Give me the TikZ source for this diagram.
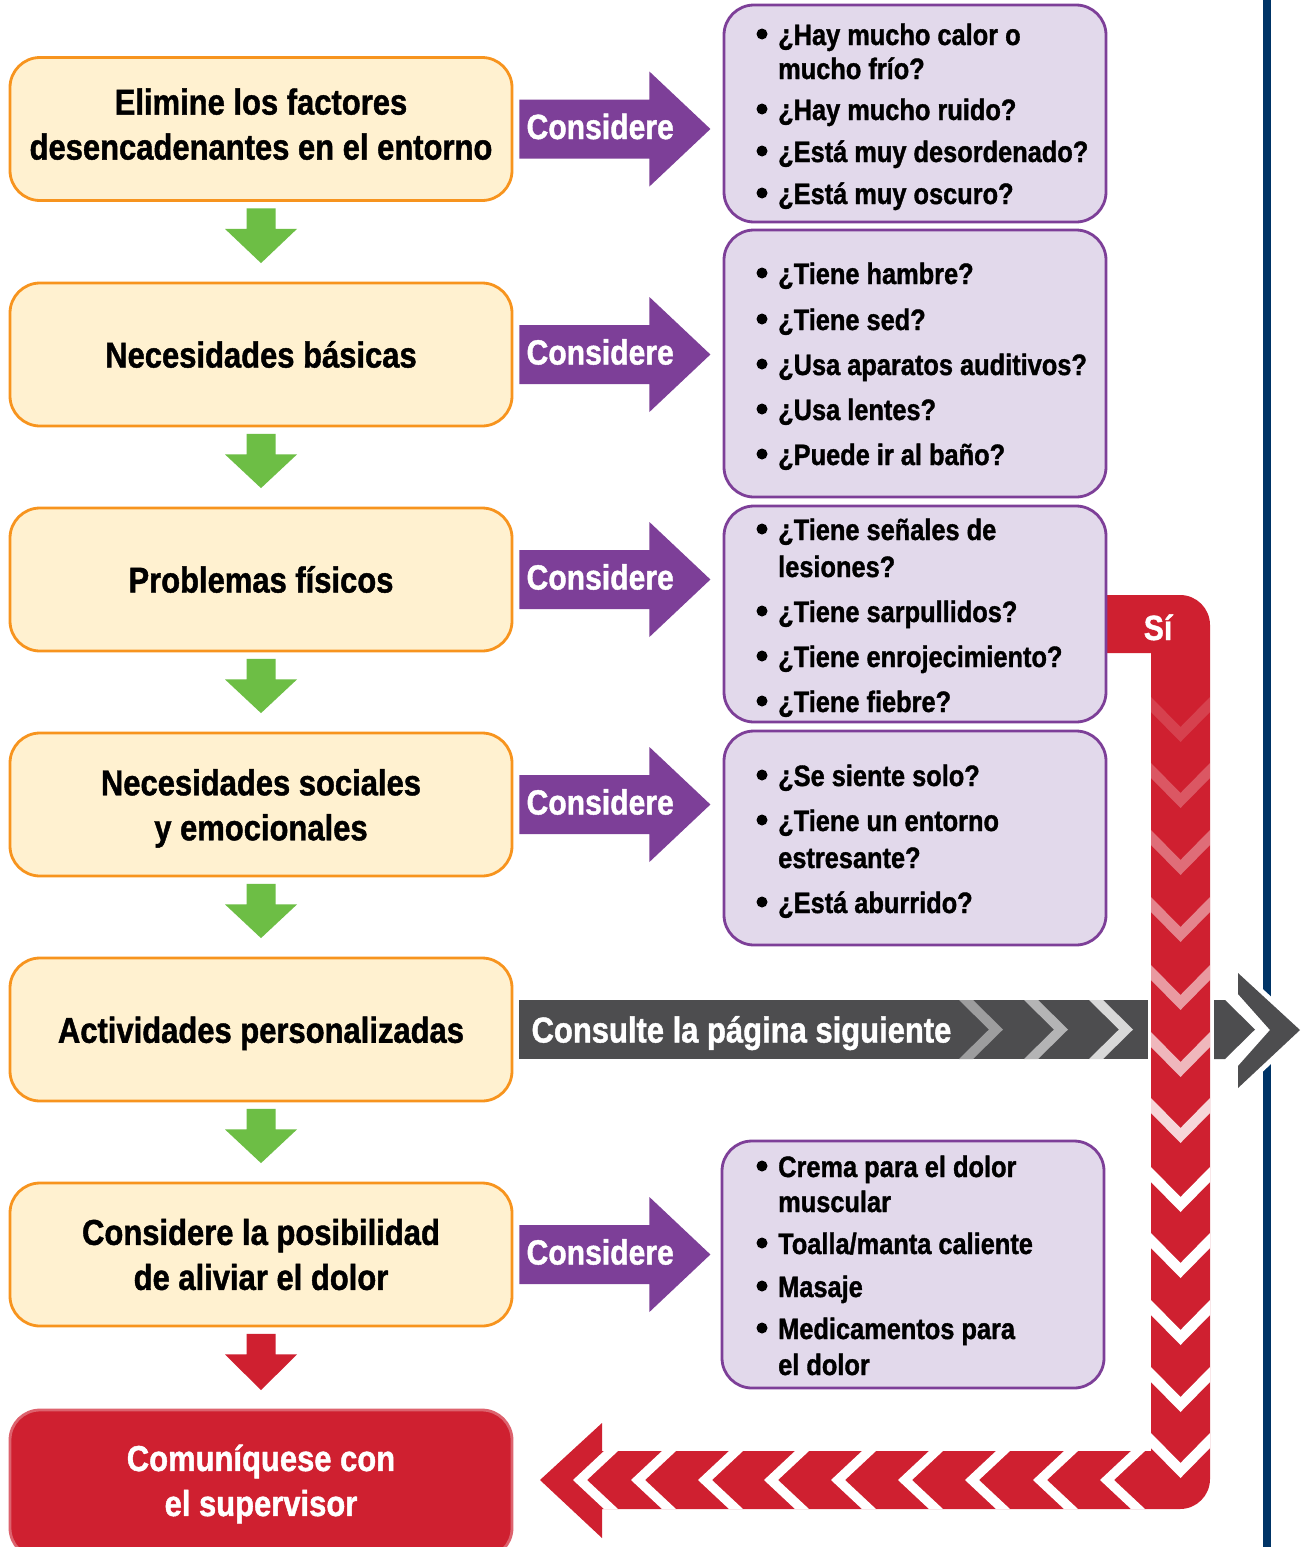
\documentclass[tikz,border=0pt]{standalone}
\usepackage{fontspec}
\setmainfont{Liberation Sans}[FakeStretch=0.86, FakeBold=1.2]
\usetikzlibrary{calc}
\definecolor{cream}{HTML}{FFF1D0}
\definecolor{orng}{HTML}{F7941E}
\definecolor{purp}{HTML}{7D3F98}
\definecolor{lav}{HTML}{E2D9EB}
\definecolor{grn}{HTML}{6DBE45}
\definecolor{rred}{HTML}{CF2030}
\definecolor{gbar}{HTML}{4D4D4F}
\definecolor{navy}{HTML}{003466}
\newcommand\boxfont{\fontsize{36}{45}\selectfont\bfseries}
\newcommand\consfont{\fontsize{35}{45}\selectfont\bfseries}
\newcommand\itemfont{\fontsize{29.5}{35}\selectfont\bfseries}
\newcommand\dnarrow[3]{\fill[#3] ($(#1.south)+(-14.5,6.5)$) -- ($(#1.south)+(14.5,6.5)$) -- ($(#1.south)+(14.5,27)$) -- ($(#1.south)+(36,27)$) -- ($(#2.north)+(0,-18.5)$) -- ($(#1.south)+(-36,27)$) -- ($(#1.south)+(-14.5,27)$) -- cycle;}
\newcommand\consarrow[2]{\fill[purp] ($(#1.east)+(6,-29.5)$) -- ($(#1.east)+(136,-29.5)$) -- ($(#1.east)+(136,-57.5)$) -- ($(#1.east)+(197,0)$) -- ($(#1.east)+(136,57.5)$) -- ($(#1.east)+(136,29.5)$) -- ($(#1.east)+(6,29.5)$) -- cycle;
 \node[constxt] (#2) at ($(#1.east)+(13,10)$) {Considere};}
\newcommand\qitem[3]{\node[qdot] (d#1) at (762,{#2-11}) {}; \node[qtxt] (t#1) at (778,#2) {#3};}
\newcommand\qline[3]{\node[qtxt] (t#1) at (778,#2) {#3};}
\newcommand\deeper{\rule[-10pt]{0pt}{10pt}}
\newcommand\taller{\rule{0pt}{34pt}}
\tikzset{
 lbox/.style={draw=orng, fill=cream, line width=2.8, rounded corners=30, minimum width=502, minimum height=143, align=center, font=\boxfont, inner sep=0},
 qbox/.style={draw=purp, fill=lav, line width=2.8, rounded corners=30},
 constxt/.style={anchor=base west, text=white, font=\consfont, inner sep=0},
 qtxt/.style={anchor=base west, font=\itemfont, inner sep=0},
 qdot/.style={circle, fill=black, inner sep=0, minimum size=11}
}
\begin{document}
\begin{tikzpicture}[x=1pt,y=-1pt]
\useasboundingbox (0,0) rectangle (1310,1547);
\fill[white] (0,0) rectangle (1310,1547);
% navy page rule
\fill[navy] (1263,0) rectangle (1271,1547);
% red return band
\fill[rred] (1100,595) -- (1180,595) arc[start angle=-90, end angle=0, radius=30] -- (1210,1479) arc[start angle=0, end angle=90, radius=30] -- (602,1509) -- (602,1538) -- (540,1480) -- (602,1423) -- (602,1451) -- (1151,1451) -- (1151,653) -- (1100,653) -- cycle;
\foreach \t/\o in {742/0.15, 808/0.25, 875/0.35, 942/0.45, 1010/0.55, 1077/0.68, 1143/0.82, 1212/1, 1278/1, 1345/1, 1412/1, 1478/1}
  \fill[white, fill opacity=\o] (1151,{\t-45}) -- (1180.5,{\t-15}) -- (1210,{\t-45}) -- (1210,{\t-30}) -- (1180.5,\t) -- (1151,{\t-30}) -- cycle;
\foreach \a in {573,631,698,764,831,898,965,1033,1100}
  \fill[white] (\a,1480) -- ({\a+31},1451) -- ({\a+45},1451) -- ({\a+14},1480) -- ({\a+45},1509) -- ({\a+31},1509) -- cycle;
\node[text=white, font=\consfont, inner sep=0, anchor=base] (si) at (1158,640) {Sí};
% left boxes
\node[lbox] (L1) at (261,129) {Elimine los factores\\desencadenantes en el entorno\deeper};
\node[lbox] (L2) at (261,354.5) {Necesidades básicas};
\node[lbox] (L3) at (261,579.5) {Problemas físicos};
\node[lbox] (L4) at (261,804.5) {\taller Necesidades sociales\\y emocionales};
\node[lbox] (L5) at (261,1029.5) {\taller Actividades personalizadas};
\node[lbox] (L6) at (261,1254.5) {Considere la posibilidad\\de aliviar el dolor};
\node[lbox, fill=rred, draw=rred!70!white, text=white, minimum height=148] (LR) at (261,1484) {Comuníquese con\\el supervisor};
\dnarrow{L1}{L2}{grn}
\dnarrow{L2}{L3}{grn}
\dnarrow{L3}{L4}{grn}
\dnarrow{L4}{L5}{grn}
\dnarrow{L5}{L6}{grn}
\dnarrow{L6}{LR}{rred}
% right boxes
\node[qbox, minimum width=382, minimum height=217] (RA) at (915,113.5) {};
\node[qbox, minimum width=382, minimum height=267] (RB) at (915,363.5) {};
\node[qbox, minimum width=382, minimum height=216] (RC) at (915,614) {};
\node[qbox, minimum width=382, minimum height=214] (RD) at (915,838) {};
\node[qbox, minimum width=382, minimum height=247] (RE) at (913,1264.5) {};
\consarrow{L1}{c1}
\consarrow{L2}{c2}
\consarrow{L3}{c3}
\consarrow{L4}{c4}
\consarrow{L6}{c6}
% items
\qitem{A1}{45}{¿Hay mucho calor o}
\qline{A1b}{79}{mucho frío?}
\qitem{A2}{120}{¿Hay mucho ruido?}
\qitem{A3}{162}{¿Está muy desordenado?}
\qitem{A4}{204}{¿Está muy oscuro?}
\qitem{B1}{284}{¿Tiene hambre?}
\qitem{B2}{330}{¿Tiene sed?}
\qitem{B3}{375}{¿Usa aparatos auditivos?}
\qitem{B4}{420}{¿Usa lentes?}
\qitem{B5}{465}{¿Puede ir al baño?}
\qitem{C1}{540}{¿Tiene señales de}
\qline{C1b}{577}{lesiones?}
\qitem{C2}{622}{¿Tiene sarpullidos?}
\qitem{C3}{667}{¿Tiene enrojecimiento?}
\qitem{C4}{712}{¿Tiene fiebre?}
\qitem{D1}{786}{¿Se siente solo?}
\qitem{D2}{831}{¿Tiene un entorno}
\qline{D2b}{868}{estresante?}
\qitem{D3}{913}{¿Está aburrido?}
\qitem{E1}{1177}{Crema para el dolor}
\qline{E1b}{1212}{muscular}
\qitem{E2}{1254}{Toalla/manta caliente}
\qitem{E3}{1297}{Masaje}
\qitem{E4}{1339}{Medicamentos para}
\qline{E4b}{1375}{el dolor}
% grey bar
\fill[gbar] ($(L5.east)+(6,-29.5)$) rectangle ($(L5.east)+(635,29.5)$);
\foreach \a/\c in {959/45, 1024/58, 1089/78}
  \fill[white!\c!gbar] (\a,1000) -- ({\a+14},1000) -- ({\a+44},1029.5) -- ({\a+14},1059) -- (\a,1059) -- ({\a+30},1029.5) -- cycle;
\node[anchor=base west, text=white, font=\boxfont, inner sep=0] (consulte) at ($(L5.east)+(18,13)$) {Consulte la página siguiente};
% next-page arrow
\draw[white, fill=white, line width=10, line join=round] (1238,973) -- (1300,1030) -- (1238,1088) -- cycle;
\fill[gbar] (1214,1000) -- (1225,1000) -- (1255,1029.5) -- (1225,1059) -- (1214,1059) -- cycle;
\fill[gbar] (1238,973) -- (1300,1030) -- (1238,1088) -- (1238,1066) -- (1270,1030) -- (1238,994) -- cycle;
\end{tikzpicture}
\end{document}
